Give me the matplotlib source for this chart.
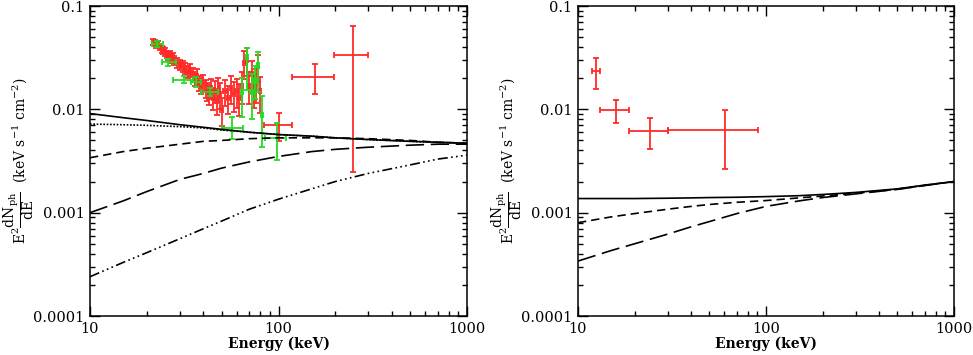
import matplotlib
matplotlib.use("Agg")
import matplotlib.pyplot as plt
import matplotlib.ticker as mticker
import numpy as np

plt.rcParams["font.family"] = "DejaVu Serif"
plt.rcParams["mathtext.fontset"] = "dejavuserif"

# model curves, left panel
curve_e = [10, 15, 20, 30, 40, 50, 70, 100, 150, 200, 300, 500, 700, 1000]
left_total = [0.0091, 0.0083, 0.0078, 0.0071, 0.0067, 0.0064, 0.0060, 0.0057,
              0.0055, 0.0053, 0.0051, 0.0049, 0.0048, 0.0047]
left_dotted = [0.0072, 0.0071, 0.0070, 0.0068, 0.0066, 0.0063, 0.0060, 0.0057,
               0.0055, 0.0053, 0.0051, 0.0049, 0.0048, 0.0047]
left_dashed = [0.0034, 0.0039, 0.0042, 0.0046, 0.0049, 0.0050, 0.0052, 0.0053,
               0.0053, 0.0053, 0.0052, 0.0050, 0.0048, 0.0047]
left_longdash = [0.0010, 0.0013, 0.0016, 0.0021, 0.0024, 0.0027, 0.0031, 0.0035,
                 0.0039, 0.0041, 0.0043, 0.0045, 0.0046, 0.0046]
left_dashdot = [0.00024, 0.00033, 0.00041, 0.00056, 0.00070, 0.00083, 0.00108,
                0.00135, 0.0017, 0.0020, 0.0024, 0.0029, 0.0033, 0.0036]

# model curves, right panel
right_total = [0.00137, 0.00137, 0.00137, 0.00138, 0.00139, 0.00140, 0.00141,
               0.00143, 0.00146, 0.00150, 0.00157, 0.00170, 0.00185, 0.0020]
right_dashed = [0.00080, 0.00091, 0.00098, 0.00108, 0.00115, 0.00120, 0.00126,
                0.00131, 0.00139, 0.00145, 0.00154, 0.00169, 0.00184, 0.0020]
right_longdash = [0.00034, 0.00043, 0.00050, 0.00062, 0.00073, 0.00082, 0.00098,
                  0.00115, 0.00130, 0.00140, 0.00152, 0.00168, 0.00183, 0.0020]

# red spectrum, left panel (dense part)
red_e = [21.5, 22.0, 22.5, 23.0, 23.5, 24.0, 24.5, 25.0, 25.5, 26.0, 26.5, 27.0,
         27.5, 28.0, 29.0, 30.0, 31.0, 32.0, 33.0, 34.0, 35.0, 36.0, 37.0, 38.0,
         39.0, 40.0, 41.0, 42.0, 43.0, 44.0, 45.0, 46.0, 47.0, 48.0, 49.0, 50.0,
         52.0, 54.0, 56.0, 58.0, 60.0, 62.0, 64.0, 66.0, 68.0, 70.0, 72.0, 74.0,
         76.0, 78.0, 80.0]
red_f = [0.045, 0.044, 0.042, 0.043, 0.040, 0.038, 0.037, 0.036, 0.034, 0.033,
         0.034, 0.031, 0.032, 0.030, 0.028, 0.027, 0.026, 0.025, 0.023, 0.024,
         0.022, 0.020, 0.021, 0.018, 0.017, 0.018, 0.016, 0.015, 0.014, 0.016,
         0.013, 0.015, 0.012, 0.016, 0.014, 0.0098, 0.015, 0.013, 0.016, 0.014,
         0.015, 0.013, 0.017, 0.028, 0.030, 0.017, 0.022, 0.016, 0.018, 0.026,
         0.015]
red_rel = [0.06, 0.06, 0.06, 0.07, 0.07, 0.07, 0.08, 0.08, 0.08, 0.09, 0.09, 0.1,
           0.1, 0.1, 0.11, 0.12, 0.12, 0.13, 0.13, 0.14, 0.14, 0.15, 0.16, 0.17,
           0.18, 0.19, 0.2, 0.2, 0.22, 0.22, 0.24, 0.24, 0.26, 0.26, 0.28, 0.3,
           0.28, 0.3, 0.3, 0.32, 0.32, 0.34, 0.34, 0.3, 0.3, 0.34, 0.34, 0.36,
           0.36, 0.3, 0.38]
red_hw = [0.25, 0.25, 0.25, 0.25, 0.25, 0.25, 0.25, 0.25, 0.25, 0.25, 0.25, 0.3,
          0.3, 0.4, 0.5, 0.5, 0.5, 0.5, 0.5, 0.5, 0.5, 0.5, 0.5, 0.5, 0.5, 0.5,
          0.5, 0.5, 0.5, 0.5, 0.5, 0.5, 0.5, 0.5, 0.5, 0.8, 1.0, 1.0, 1.0, 1.0,
          1.0, 1.0, 1.0, 1.0, 1.0, 1.0, 1.0, 1.0, 1.0, 1.0, 1.0]

# red spectrum, left panel (wide high-energy bins)
redw_e = [101, 157, 248]
redw_lo_e = [84, 118, 197]
redw_hi_e = [118, 197, 300]
redw_f = [0.0070, 0.0205, 0.0334]
redw_lo_f = [0.0049, 0.0141, 0.0025]
redw_hi_f = [0.0092, 0.0272, 0.064]

# green spectrum, left panel
green_e = [22.7, 26.0, 31.5, 36.5, 43.5, 56.6, 64.0, 68.0, 72.0, 75.0, 78.0, 82.0, 98.0]
green_lo_e = [21.2, 24.2, 27.5, 34.5, 39.0, 50.0, 63.0, 67.0, 71.0, 74.0, 77.0, 81.0, 84.5]
green_hi_e = [24.4, 28.5, 35.0, 39.0, 48.0, 65.0, 65.0, 69.0, 73.0, 76.0, 79.0, 83.0, 110.0]
green_f = [0.0428, 0.0284, 0.0194, 0.0184, 0.0147, 0.0066, 0.0147, 0.032, 0.0147,
           0.019, 0.027, 0.0089, 0.0053]
green_lo_f = [0.040, 0.0265, 0.018, 0.0165, 0.0135, 0.0052, 0.0085, 0.0153, 0.0080,
              0.0125, 0.0148, 0.0043, 0.0032]
green_hi_f = [0.0455, 0.0305, 0.021, 0.0205, 0.016, 0.0084, 0.020, 0.039, 0.022,
              0.026, 0.036, 0.0134, 0.0074]

# red spectrum, right panel
r2_e = [12.5, 15.9, 24.3, 60.5]
r2_lo_e = [11.9, 13.1, 18.7, 30.0]
r2_hi_e = [13.1, 18.7, 30.0, 91.0]
r2_f = [0.0236, 0.0098, 0.0062, 0.0063]
r2_lo_f = [0.0159, 0.0074, 0.0041, 0.00267]
r2_hi_f = [0.0315, 0.0122, 0.0082, 0.0099]

RED = "#ff2a2a"
GREEN = "#22dd22"


def style_axis(ax):
    ax.set_xscale("log")
    ax.set_yscale("log")
    ax.set_xlim(10, 1000)
    ax.set_ylim(1e-4, 0.1)
    fmt = mticker.FuncFormatter(lambda v, _: f"{v:g}")
    ax.xaxis.set_major_formatter(fmt)
    ax.yaxis.set_major_formatter(fmt)
    ax.xaxis.set_minor_formatter(mticker.NullFormatter())
    ax.yaxis.set_minor_formatter(mticker.NullFormatter())
    ax.tick_params(which="both", direction="in", top=True, right=True,
                   labelsize=10.5, width=1.0, pad=4)
    ax.tick_params(which="major", length=7)
    ax.tick_params(which="minor", length=3.5)
    for s in ax.spines.values():
        s.set_linewidth(1.1)
    ax.set_xlabel("Energy (keV)", fontsize=10, fontweight="bold", labelpad=1)
    ax.set_ylabel(r"$\mathrm{E^2\dfrac{dN_{ph}}{dE}}$  (keV s$^{-1}$ cm$^{-2}$)",
                  fontsize=10)
    # anchor is the right side of the rotated label
    ax.yaxis.set_label_coords(-54 / 377, 0.5)


def wide_errorbar(ax, e, elo, ehi, f, flo, fhi, color):
    e = np.array(e)
    f = np.array(f)
    xerr = [e - np.array(elo), np.array(ehi) - e]
    yerr = [f - np.array(flo), np.array(fhi) - f]
    ax.errorbar(e, f, xerr=xerr, yerr=yerr, fmt="none", ecolor=color,
                elinewidth=1.3, capsize=2.5, capthick=1.3)


fig = plt.figure(figsize=(9.73, 3.55), dpi=100)
ax1 = fig.add_axes([90 / 973, 39 / 355, 377 / 973, 310 / 355])
ax2 = fig.add_axes([578 / 973, 39 / 355, 376 / 973, 310 / 355])

# left panel
red_e_arr = np.array(red_e)
red_f_arr = np.array(red_f)
ax1.errorbar(red_e_arr, red_f_arr, xerr=np.array(red_hw),
             yerr=red_f_arr * np.array(red_rel), fmt="none", ecolor=RED,
             elinewidth=1.3, capsize=2.5, capthick=1.3)
wide_errorbar(ax1, redw_e, redw_lo_e, redw_hi_e, redw_f, redw_lo_f, redw_hi_f, RED)
wide_errorbar(ax1, green_e, green_lo_e, green_hi_e, green_f, green_lo_f,
              green_hi_f, GREEN)

ax1.plot(curve_e, left_total, color="black", lw=1.2, ls="-")
ax1.plot(curve_e, left_dotted, color="black", lw=1.2, ls=(0, (1, 1)))
ax1.plot(curve_e, left_dashed, color="black", lw=1.2, ls=(0, (5, 3)))
ax1.plot(curve_e, left_longdash, color="black", lw=1.2, ls=(0, (11, 4)))
ax1.plot(curve_e, left_dashdot, color="black", lw=1.2,
         ls=(0, (6, 2, 1, 2, 1, 2, 1, 2)))
style_axis(ax1)

# right panel
wide_errorbar(ax2, r2_e, r2_lo_e, r2_hi_e, r2_f, r2_lo_f, r2_hi_f, RED)
ax2.plot(curve_e, right_total, color="black", lw=1.2, ls="-")
ax2.plot(curve_e, right_dashed, color="black", lw=1.2, ls=(0, (5, 3)))
ax2.plot(curve_e, right_longdash, color="black", lw=1.2, ls=(0, (11, 4)))
style_axis(ax2)

fig.savefig("out.png", dpi=100)
